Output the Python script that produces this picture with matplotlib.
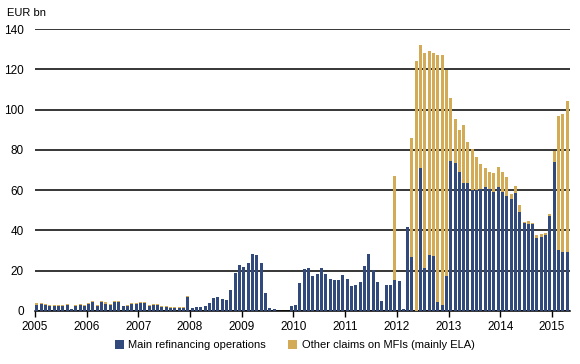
# Eurosystem lending: main refinancing operations vs other claims on MFIs (monthly)
import numpy as np
import matplotlib.pyplot as plt

plt.rcParams['font.family'] = ['Liberation Sans', 'DejaVu Sans']

years = [2005, 2006, 2007, 2008, 2009, 2010, 2011, 2012, 2013, 2014, 2015]

# EUR bn, Jan 2005 - Apr 2015
mro = [3, 3.3, 3, 2.5, 2.5, 2.5, 2.5, 2.8, 0.8, 2.5, 3, 2.3,
       3.5, 4.5, 2.5, 4.2, 3.5, 3, 4.2, 4.5, 2.3, 2.5, 3.5, 3.5,
       4, 4, 2.5, 3, 3, 2, 1.8, 1.5, 1.5, 1.5, 1.5, 7,
       1.3, 1.8, 1.8, 2.3, 3.7, 6.3, 7, 5.8, 5.5, 10.5, 19, 23,
       22, 24, 28.3, 28, 24, 8.8, 1.3, 0.8, 0, 0, 0, 2.5,
       3, 13.8, 21, 21.5, 17.5, 18.3, 21.5, 18.5, 16, 15.2, 15.5, 18,
       16, 12.2, 13, 14.2, 22.5, 28.5, 20.2, 14.5, 5, 13, 12.7, 15.5,
       14.7, 1, 41.7, 26.7, 0, 71, 21.3, 28, 27.5, 4.2, 3, 17.5,
       74.7, 73.7, 69.2, 63.7, 63.3, 60, 60.3, 60.8, 61.7, 60.8, 59.2, 61.7,
       59.2, 57, 55.8, 58.7, 49.2, 43.7, 43.3, 43, 36.2, 36.7, 37.5, 47,
       74.2, 30.3, 29.2, 29.2]

other = [0.8, 0.5, 0.4, 0.4, 0.5, 0.5, 0.5, 0.6, 0.2, 0.5, 0.6, 0.5,
         0.5, 0.6, 0.4, 0.6, 0.7, 0.6, 0.5, 0.5, 0.3, 0.4, 0.5, 0.6,
         0.6, 0.5, 0.4, 0.4, 0.5, 0.6, 0.6, 0.5, 0.3, 0.4, 0.3, 0.2,
         0, 0, 0, 0, 0, 0, 0, 0, 0, 0, 0, 0,
         0, 0, 0, 0, 0, 0, 0, 0, 0, 0, 0, 0,
         0, 0, 0, 0, 0, 0, 0, 0, 0, 0, 0, 0,
         0, 0, 0, 0, 0, 0, 0, 0, 0, 0, 0, 51.5,
         0, 0, 0, 59.3, 124, 61.3, 106.7, 101, 100.8, 122.8, 124, 102,
         31.3, 21.6, 20.8, 28.8, 20.4, 20.3, 16.4, 12.2, 9.1, 8, 9.5, 9.6,
         10, 9.3, 2.5, 3.3, 3.3, 0.5, 1.2, 0.7, 1.3, 1.6, 1.2, 1,
         5, 66.4, 68.8, 75]

blue = '#31497B'
gold = '#D3AA55'

x = 2005 + (np.arange(len(mro)) + 0.5) / 12
w = 0.7 / 12

fig = plt.figure(figsize=(5.8, 3.64), dpi=100)
ax = fig.add_axes([0.060, 0.146, 0.923, 0.774])

ax.bar(x, mro, width=w, color=blue, label='Main refinancing operations', zorder=3)
ax.bar(x, other, width=w, bottom=mro, color=gold,
       label='Other claims on MFIs (mainly ELA)', zorder=3)

ax.set_ylim(0, 140)
ax.set_xlim(2005, 2015.35)
ax.set_yticks(range(0, 141, 20))
ax.set_xticks(years)
ax.set_xticklabels([str(y) for y in years], fontsize=8.5)
ax.tick_params(axis='y', length=0, labelsize=8.5, pad=8)
ax.tick_params(axis='x', length=4, width=1, color='black', pad=3)
ax.grid(axis='y', color='black', linewidth=1.1, zorder=1)

for s in ['top', 'right', 'left']:
    ax.spines[s].set_visible(False)
ax.spines['bottom'].set_linewidth(1.1)

fig.text(0.012, 0.965, 'EUR bn', fontsize=8, va='center')

fig.legend(loc='center', bbox_to_anchor=(0.508, 0.052), ncol=2, frameon=False,
           fontsize=8, handlelength=0.8, handleheight=0.8, handletextpad=0.4,
           columnspacing=2.0)

plt.savefig('out.png', dpi=100)
